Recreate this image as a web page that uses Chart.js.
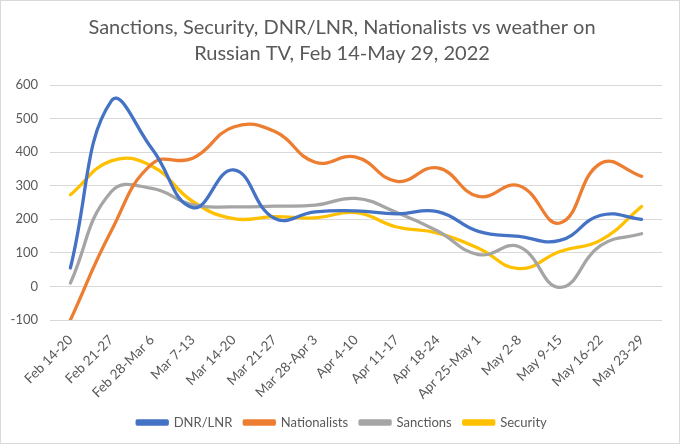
<!DOCTYPE html>
<html>
<head>
<meta charset="utf-8">
<script src="https://cdn.jsdelivr.net/npm/chart.js@4/dist/chart.umd.min.js"></script>
<style>
  html, body { margin: 0; padding: 0; background: #fff; }
  #wrap { width: 680px; height: 444px; box-sizing: border-box; border: 1px solid #d9d9d9; position: relative; }
  canvas { display: block; }
</style>
</head>
<body>
<div id="wrap"><canvas id="c"></canvas></div>
<script>
const categories = ["Feb 14-20", "Feb 21-27", "Feb 28-Mar 6", "Mar 7-13", "Mar 14-20", "Mar 21-27", "Mar 28-Apr 3", "Apr 4-10", "Apr 11-17", "Apr 18-24", "Apr 25-May 1", "May 2-8", "May 9-15", "May 16-22", "May 23-29"];
const dnrLnr       = [55, 552, 410, 235, 347, 203, 222, 225, 216, 223, 164, 149, 137, 212, 200];
const nationalists = [-100, 165, 365, 382, 475, 462, 370, 385, 313, 353, 268, 300, 189, 367, 328];
const sanctions    = [10, 282, 292, 243, 237, 239, 242, 262, 220, 165, 95, 118, -3, 122, 157];
const security     = [273, 374, 358, 253, 202, 208, 204, 220, 177, 159, 114, 53, 104, 138, 238];
const seriesNames  = ["DNR/LNR", "Nationalists", "Sanctions", "Security"];
const titleLines   = ["Sanctions, Security, DNR/LNR, Nationalists vs weather on", "Russian TV, Feb 14-May 29, 2022"];

const colors = ["#4472C4", "#ED7D31", "#A5A5A5", "#FFC000"];
const seriesData = [dnrLnr, nationalists, sanctions, security];
const FONT = "Lato, 'Open Sans', sans-serif";
const TXT = "#595959";

// center legend and title on the whole canvas (as in the reference)
const centerShift = {
  id: "centerShift",
  afterLayout(chart) {
    const w = chart.width;
    [chart.legend, chart.titleBlock].forEach(b => {
      if (!b) return;
      const d = (w / 2) - (b.left + b.right) / 2 + 2;
      b.left += d; b.right += d;
    });
  }
};

new Chart(document.getElementById("c"), {
  type: "line",
  data: {
    labels: categories,
    datasets: seriesNames.map((name, i) => ({
      label: name,
      data: seriesData[i],
      borderColor: colors[i],
      backgroundColor: colors[i],
      borderWidth: 3.3,
      pointRadius: 0,
      pointHoverRadius: 0,
      tension: 0.45,
      borderCapStyle: "round",
      borderJoinStyle: "round",
      fill: false
    }))
  },
  plugins: [centerShift],
  options: {
    responsive: true,
    maintainAspectRatio: false,
    animation: false,
    layout: { padding: { left: 9, right: 17, top: 0, bottom: 4 } },
    plugins: {
      title: {
        display: true,
        text: titleLines,
        color: TXT,
        font: { family: FONT, size: 20, weight: "normal", lineHeight: 1.3 },
        padding: { top: 14, bottom: 18 }
      },
      legend: {
        position: "bottom",
        labels: {
          color: TXT,
          font: { family: FONT, size: 13 },
          boxWidth: 30,
          boxHeight: 3,
          padding: 12
        }
      },
      tooltip: { enabled: false }
    },
    scales: {
      x: {
        offset: true,
        afterFit: (scale) => { scale.height = 84; },
        grid: { display: false, drawTicks: false },
        border: { display: false },
        ticks: {
          color: TXT,
          font: { family: FONT, size: 13.5 },
          minRotation: 45,
          maxRotation: 45,
          autoSkip: false,
          padding: 12
        }
      },
      y: {
        min: -100,
        max: 600,
        afterFit: (scale) => { scale.width = 40; },
        grid: { color: "#d9d9d9", lineWidth: 1, drawTicks: false },
        border: { display: false },
        ticks: {
          stepSize: 100,
          color: TXT,
          font: { family: FONT, size: 13 },
          padding: 12
        }
      }
    }
  }
});
</script>
</body>
</html>
